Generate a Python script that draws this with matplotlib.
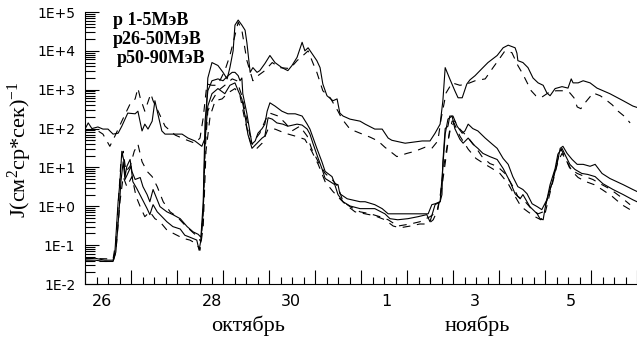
import numpy as np
import matplotlib.pyplot as plt
from matplotlib.ticker import LogLocator, FixedLocator, MultipleLocator, NullFormatter

# время в сутках от 26 октября 00 UT
t_a = [0.00, 0.07, 0.15, 0.28, 0.39, 0.50, 0.61, 0.72, 0.80, 0.87, 0.93, 1.09, 1.15, 1.24, 1.30,
       1.37, 1.46, 1.52, 1.57, 1.67, 1.74, 1.89, 2.11, 2.24, 2.39, 2.54, 2.61, 2.67, 2.76, 2.89,
       3.00, 3.09, 3.15, 3.22, 3.26, 3.33, 3.41, 3.48, 3.52, 3.59, 3.65, 3.74, 3.80, 3.91, 4.02,
       4.13, 4.28, 4.41, 4.50, 4.61, 4.72, 4.78, 4.85, 4.93, 5.04, 5.11, 5.17, 5.26, 5.39, 5.48,
       5.54, 5.61, 5.76, 5.98, 6.09, 6.30, 6.46, 6.59, 6.67, 6.96, 7.33, 7.50, 7.61, 7.72, 7.78,
       7.83, 7.93, 8.04, 8.11, 8.20, 8.30, 8.37, 8.48, 8.63, 8.76, 8.96, 9.09, 9.20, 9.35, 9.39,
       9.41, 9.52, 9.63, 9.74, 9.85, 9.96, 10.04, 10.11, 10.22, 10.37, 10.50, 10.57, 10.61, 10.72,
       10.83, 10.98, 11.13, 11.41, 11.70, 11.91, 12.00]
j_a = [97, 140, 100, 110, 97, 97, 72, 76, 115, 175, 250, 240, 280, 87, 130,
       97, 155, 520, 280, 87, 72, 72, 72, 57, 48, 35, 57, 2000, 5000, 4200,
       2800, 1900, 3700, 10000, 46000, 62000, 46000, 34000, 16000, 2800, 3700, 2800, 3100, 4700, 7600,
       5000, 3700, 3100, 4200, 6800, 16600, 10000, 12000, 8700, 5600, 3700, 1400, 700, 520, 580,
       250, 210, 175, 155, 130, 97, 97, 57, 50, 42, 48, 48, 76, 130, 520,
       3700, 1900, 940, 620, 620, 1400, 1800, 2300, 3500, 5000, 7600, 12000, 14000, 12000, 8700,
       5600, 5000, 3700, 2000, 1500, 1300, 830, 700, 1070, 1200, 1100, 1900, 1500, 1500,
       1700, 1500, 1100, 790, 520, 380, 350]

t_b = [0.00, 0.22, 0.39, 0.54, 0.65, 0.80, 0.98, 1.09, 1.15, 1.20, 1.30, 1.43, 1.48, 1.59, 1.74,
       1.96, 2.17, 2.39, 2.50, 2.57, 2.61, 2.65, 2.76, 2.87, 2.93, 3.04, 3.15, 3.26, 3.33, 3.41,
       3.52, 3.65, 3.76, 3.91, 4.07, 4.24, 4.46, 4.61, 4.74, 4.85, 4.96, 5.04, 5.17, 5.33, 5.50,
       5.59, 5.76, 5.98, 6.20, 6.37, 6.52, 6.78, 7.00, 7.17, 7.39, 7.54, 7.67, 7.74, 7.85, 7.98,
       8.15, 8.30, 8.48, 8.70, 8.87, 8.98, 9.13, 9.28, 9.41, 9.52, 9.70, 9.80, 9.91, 10.07, 10.24,
       10.39, 10.54, 10.63, 10.70, 10.78, 10.85, 10.98, 11.04, 11.20, 11.30, 11.46, 11.59, 11.74, 11.85]
j_b = [87, 97, 72, 35, 64, 155, 430, 580, 1100, 620, 280, 790, 520, 280, 115,
       68, 53, 42, 57, 190, 520, 1400, 1300, 1300, 1700, 3100, 7600, 25000, 55000, 34000,
       5600, 1700, 2300, 3100, 5000, 3700, 3500, 5600, 7600, 10000, 4700, 2800, 940, 620, 280,
       175, 97, 76, 60, 48, 33, 19, 23, 26, 33, 31, 48, 175, 830, 1500,
       1300, 1400, 1700, 1900, 3700, 5600, 10000, 9000, 4200, 2500, 940, 700, 620, 830, 940,
       940, 830, 620, 360, 325, 430, 660, 830, 700, 580, 410, 280, 200, 140]

t_c = [0.00, 0.22, 0.43, 0.61, 0.65, 0.72, 0.76, 0.80, 0.85, 0.87, 0.91, 0.98, 1.02, 1.09, 1.20,
       1.26, 1.35, 1.41, 1.48, 1.57, 1.63, 1.78, 1.91, 2.07, 2.22, 2.35, 2.46, 2.52, 2.57, 2.61,
       2.67, 2.76, 2.89, 3.00, 3.11, 3.20, 3.26, 3.33, 3.37, 3.41, 3.43, 3.52, 3.59, 3.63, 3.70,
       3.76, 3.85, 3.91, 3.96, 4.02, 4.13, 4.28, 4.41, 4.57, 4.72, 4.83, 4.89, 4.96, 5.04, 5.15,
       5.22, 5.37, 5.43, 5.50, 5.54, 5.70, 5.98, 6.09, 6.30, 6.46, 6.59, 6.80, 7.02, 7.33, 7.46,
       7.54, 7.61, 7.72, 7.76, 7.78, 7.83, 7.89, 7.93, 8.00, 8.09, 8.20, 8.26, 8.33, 8.43, 8.54,
       8.70, 8.85, 8.96, 9.09, 9.20, 9.30, 9.41, 9.52, 9.61, 9.72, 9.83, 9.93, 10.04, 10.15, 10.26,
       10.33, 10.39, 10.48, 10.59, 10.70, 10.83, 10.98, 11.09, 11.24, 11.41, 11.70, 11.91, 12.00]
j_c = [0.044, 0.046, 0.041, 0.041, 0.066, 1.31, 4.3, 26, 14, 5.8, 10.7, 16, 7.9, 4.9, 5.5,
       3.2, 2.0, 1.31, 2.7, 1.47, 0.98, 0.72, 0.61, 0.48, 0.30, 0.22, 0.19, 0.16, 1.31, 155,
       940, 1700, 1900, 1700, 2300, 2800, 2800, 2300, 1700, 2000, 790, 240, 76, 40, 48,
       76, 100, 130, 280, 460, 380, 280, 240, 240, 210, 130, 97, 57, 31, 14,
       7.9, 5.8, 3.8, 3.6, 2.1, 1.56, 1.31, 1.31, 1.1, 0.87, 0.64, 0.64, 0.64, 0.64, 0.64,
       1.1, 1.16, 1.31, 2.0, 14, 100, 115, 210, 210, 115, 76, 87, 130, 100, 87,
       57, 40, 31, 17, 12, 5.8, 3.2, 2.7, 2.1, 1.16, 0.98, 0.82, 1.47, 3.8, 12,
       31, 35, 23, 16, 12, 12, 10.7, 12, 7.0, 5.2, 3.6, 2.7, 2.4]

t_d = [0.00, 0.61, 0.67, 0.74, 0.78, 0.83, 0.89, 0.98, 1.07, 1.15, 1.24, 1.35, 1.46, 1.57, 1.70,
       1.85, 2.00, 2.17, 2.33, 2.46, 2.52, 2.57, 2.61, 2.67, 2.76, 2.89, 3.04, 3.20, 3.30, 3.41,
       3.50, 3.59, 3.70, 3.80, 3.93, 4.02, 4.20, 4.35, 4.50, 4.67, 4.83, 4.93, 5.07, 5.22, 5.37,
       5.50, 5.61, 5.76, 5.98, 6.20, 6.41, 6.59, 6.80, 7.07, 7.28, 7.50, 7.65, 7.72, 7.80, 7.89,
       7.98, 8.04, 8.15, 8.30, 8.48, 8.63, 8.80, 8.96, 9.13, 9.28, 9.41, 9.57, 9.72, 9.85, 9.96,
       10.07, 10.17, 10.26, 10.35, 10.43, 10.54, 10.70, 10.87, 11.04, 11.20, 11.41, 11.63, 11.85]
j_d = [0.046, 0.044, 0.12, 2.4, 14, 26, 7.9, 10.7, 26, 40, 14, 7.9, 5.8, 3.2, 1.31,
       0.72, 0.54, 0.33, 0.22, 0.16, 0.12, 0.72, 26, 280, 520, 940, 1300, 1900, 1700, 700,
       210, 64, 53, 76, 175, 250, 210, 140, 87, 115, 64, 29.5, 14, 7.0, 4.9,
       3.2, 1.31, 0.98, 0.72, 0.64, 0.54, 0.45, 0.31, 0.35, 0.40, 0.54, 0.72, 1.8, 10.7, 48,
       155, 155, 97, 64, 35, 19, 12.6, 10.7, 7.0, 3.6, 1.8, 1.31, 0.82, 0.64, 0.72,
       1.8, 4.9, 14, 29.5, 19, 9.4, 7.0, 5.8, 4.9, 3.8, 2.8, 1.8, 1.1]

t_e = [0.00, 0.22, 0.43, 0.61, 0.67, 0.74, 0.78, 0.83, 0.87, 0.93, 1.00, 1.04, 1.13, 1.24, 1.35,
       1.41, 1.48, 1.57, 1.63, 1.78, 1.91, 2.07, 2.17, 2.28, 2.43, 2.48, 2.52, 2.57, 2.61, 2.67,
       2.76, 2.89, 3.04, 3.15, 3.26, 3.33, 3.41, 3.48, 3.54, 3.63, 3.74, 3.85, 3.91, 3.98, 4.07,
       4.17, 4.30, 4.41, 4.61, 4.72, 4.83, 4.89, 4.96, 5.07, 5.15, 5.22, 5.33, 5.43, 5.50, 5.61,
       5.76, 5.98, 6.30, 6.52, 6.63, 6.80, 7.02, 7.24, 7.43, 7.50, 7.61, 7.72, 7.76, 7.83, 7.89,
       7.98, 8.04, 8.15, 8.22, 8.33, 8.43, 8.54, 8.65, 8.80, 8.96, 9.09, 9.24, 9.35, 9.46, 9.52,
       9.67, 9.83, 9.89, 9.96, 10.00, 10.11, 10.22, 10.28, 10.37, 10.43, 10.54, 10.65, 10.80, 10.93,
       11.09, 11.26, 11.48, 11.70, 11.91, 12.00]
j_e = [0.041, 0.041, 0.038, 0.038, 0.066, 0.72, 4.3, 14, 4.9, 7.0, 10.7, 4.3, 2.8, 1.56, 0.87,
       0.61, 1.1, 0.72, 0.61, 0.40, 0.30, 0.26, 0.18, 0.16, 0.135, 0.074, 0.135, 0.72, 48, 380,
       790, 1070, 790, 1300, 1500, 940, 580, 210, 72, 31, 42, 57, 64, 190, 175,
       140, 130, 115, 130, 123, 97, 72, 40, 17, 9.4, 5.2, 4.3, 3.6, 2.0, 1.31,
       1.02, 0.87, 0.87, 0.64, 0.48, 0.45, 0.48, 0.54, 0.61, 0.40, 1.1, 1.31, 5.2, 72, 175,
       210, 100, 53, 42, 57, 40, 31, 23, 19, 16, 9.4, 4.3, 2.1, 1.56, 2.0,
       0.98, 0.64, 0.48, 0.45, 0.87, 3.6, 9.4, 22, 31, 22, 12, 8.9, 7.0, 6.6,
       5.8, 3.8, 2.7, 2.0, 1.47, 1.31]

t_f = [0.00, 0.61, 0.67, 0.76, 0.83, 0.91, 1.02, 1.11, 1.20, 1.30, 1.41, 1.52, 1.63, 1.78, 1.96,
       2.13, 2.28, 2.43, 2.50, 2.57, 2.63, 2.72, 2.83, 2.98, 3.11, 3.26, 3.37, 3.48, 3.59, 3.72,
       3.85, 3.98, 4.13, 4.35, 4.57, 4.78, 4.93, 5.07, 5.22, 5.39, 5.54, 5.67, 5.87, 6.09, 6.30,
       6.52, 6.70, 6.85, 7.07, 7.28, 7.46, 7.57, 7.67, 7.76, 7.85, 7.93, 8.02, 8.15, 8.33, 8.50,
       8.67, 8.85, 9.02, 9.20, 9.35, 9.48, 9.63, 9.78, 9.91, 10.00, 10.09, 10.20, 10.28, 10.37, 10.48,
       10.59, 10.72, 10.89, 11.07, 11.24, 11.46, 11.67, 11.85]
j_f = [0.038, 0.038, 0.066, 1.31, 5.8, 3.2, 5.8, 1.8, 0.98, 0.54, 0.72, 0.48, 0.40, 0.245, 0.19,
       0.15, 0.135, 0.107, 0.074, 0.30, 26, 210, 520, 580, 830, 1070, 700, 155, 48, 29.5,
       42, 97, 97, 76, 64, 53, 26, 12, 4.3, 2.4, 1.56, 1.1, 0.72, 0.64, 0.57,
       0.45, 0.31, 0.28, 0.31, 0.35, 0.35, 0.45, 0.82, 3.2, 19, 97, 140, 64, 29.5, 17,
       12.6, 9.4, 7.0, 3.8, 1.8, 0.98, 0.72, 0.54, 0.45, 0.64, 1.8, 5.8, 14, 23, 14,
       7.9, 5.5, 4.3, 3.6, 2.7, 1.8, 1.1, 0.82]

legend_lines = ["p 1-5МэВ", "p26-50МэВ", "p50-90МэВ"]
day_labels = ["26", "28", "30", "1", "3", "5"]
day_pos = [0.38, 2.76, 4.48, 6.56, 8.48, 10.56]
month_labels = ["октябрь", "ноябрь"]
month_pos = [3.54, 8.52]

plt.rcParams['font.family'] = ['DejaVu Sans']
plt.rcParams['mathtext.fontset'] = 'custom'
plt.rcParams['mathtext.rm'] = 'Liberation Serif'
plt.rcParams['mathtext.it'] = 'Liberation Serif'

fig = plt.figure(figsize=(6.37, 3.38), dpi=100)
ax = fig.add_axes([85 / 637, 54 / 338, 552 / 637, 272 / 338])

lw = 0.8
ax.plot(t_a, j_a, color='black', lw=lw)
ax.plot(t_b, j_b, color='black', lw=lw, dashes=[7, 6])
ax.plot(t_c, j_c, color='black', lw=lw)
ax.plot(t_d, j_d, color='black', lw=lw, dashes=[7, 6])
ax.plot(t_e, j_e, color='black', lw=lw)
ax.plot(t_f, j_f, color='black', lw=lw, dashes=[7, 6])

ax.set_yscale('log')
ax.set_ylim(1e-2, 1e5)
ax.set_xlim(0, 12)

ax.spines['top'].set_visible(False)
ax.spines['right'].set_visible(False)

decades = [1e-2, 1e-1, 1e0, 1e1, 1e2, 1e3, 1e4, 1e5]
ax.yaxis.set_major_locator(FixedLocator(decades))
ax.set_yticklabels([f"1E{int(np.log10(v)):+d}" for v in decades])
ax.yaxis.set_minor_locator(LogLocator(base=10, subs=np.arange(2, 10), numticks=20))
ax.yaxis.set_minor_formatter(NullFormatter())
ax.tick_params(axis='y', which='major', direction='in', length=10, width=0.8, labelsize=10, pad=7)
ax.tick_params(axis='y', which='minor', direction='in', length=7, width=0.8)

ax.xaxis.set_major_locator(MultipleLocator(1))
ax.xaxis.set_minor_locator(MultipleLocator(0.25))
ax.set_xticklabels([])
ax.tick_params(axis='x', which='major', direction='in', length=10, width=0.8)
ax.tick_params(axis='x', which='minor', direction='in', length=5, width=0.8)

for lab, pos in zip(day_labels, day_pos):
    ax.text(pos, -0.066, lab, transform=ax.get_xaxis_transform(), ha='center', va='center',
            fontsize=11.5)
for lab, pos in zip(month_labels, month_pos):
    ax.text(pos, -0.155, lab, transform=ax.get_xaxis_transform(), ha='center', va='center',
            fontsize=16, family='Liberation Serif')

fig.text(20 / 637, 1 - 150 / 338, "J(см$^2$ср*сек)$^{-1}$", rotation=90, ha='center', va='center',
         fontsize=16, family='Liberation Serif')

for i, s in enumerate(legend_lines):
    x0 = 113 if i < 2 else 117
    fig.text(x0 / 637, 1 - (25 + 19 * i) / 338, s, ha='left', va='baseline',
             fontsize=13, fontweight='bold', family='Liberation Serif')

fig.savefig('out.png', dpi=100, facecolor='white')
